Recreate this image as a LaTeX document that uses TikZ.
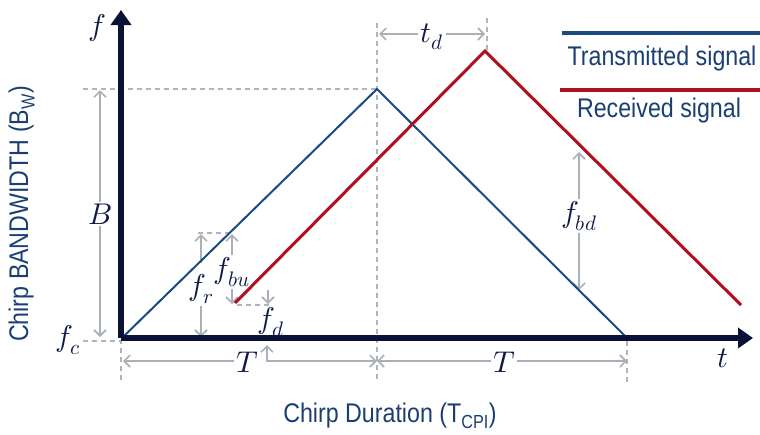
\documentclass[tikz,border=0pt]{standalone}
\usepackage{fontspec}
\usepackage{unicode-math}
\setmathfont{Latin Modern Math}
\setsansfont{Liberation Sans}[FakeStretch=0.86]
\usepackage{xcolor}
\usepackage{tikz}
\usetikzlibrary{arrows.meta,positioning,calc}

\definecolor{axisnavy}{HTML}{0A1238}
\definecolor{txblue}{HTML}{1A4A82}
\definecolor{rxred}{HTML}{B0101E}
\definecolor{guidegray}{HTML}{B0B5BC}
\definecolor{dimgray}{HTML}{A9B0B8}
\definecolor{labelblue}{HTML}{1B3F72}
\definecolor{mathnavy}{HTML}{101A45}

\begin{document}
\begin{tikzpicture}[x=1pt, y=-1pt,
  >={Straight Barb[length=6pt,width=12pt]},
  axis/.style={draw=axisnavy, line width=6.5pt, -{Triangle[length=15pt,width=20pt]}},
  tx/.style={draw=txblue, line width=2pt},
  rx/.style={draw=rxred, line width=3pt},
  guide/.style={draw=guidegray, line width=2.4pt, dash pattern=on 5pt off 4pt},
  dim/.style={draw=dimgray, line width=1.6pt},
  sym/.style={text=mathnavy, font=\fontsize{30}{32}\selectfont, inner sep=2pt},
  caption/.style={text=labelblue, font=\sffamily\fontsize{27}{30}\selectfont, inner sep=0pt}]
  \useasboundingbox (0,0) rectangle (760,434);

  % corner points of the chirps
  \coordinate (O) at (121,338);
  \coordinate (ytop) at (121,10);
  \coordinate (xend) at (753,338);
  \coordinate (txstart) at (123,337);
  \coordinate (txpeak) at (377,89);
  \coordinate (txend) at (627,338);
  \coordinate (rxstart) at (235,303);
  \coordinate (rxpeak) at (485,51);
  \coordinate (rxend) at (741,305);

  % guide lines
  \coordinate (Bref) at (83,89);
  \coordinate (fcref) at (83,341);
  \coordinate (fcaxis) at (121,341);
  \coordinate (midtop) at (377,23);
  \coordinate (midbot) at (377,382);
  \coordinate (tdtop) at (487,18);
  \coordinate (tdbot) at (487,50);
  \coordinate (leftbot) at (121,382);
  \coordinate (endtop) at (627,341);
  \coordinate (endbot) at (627,382);
  \coordinate (frguide) at (198,233);
  \coordinate (txguide) at (229,233);
  \coordinate (rxguide) at (237,305);
  \coordinate (fdguide) at (271,305);
  \draw[guide] (Bref) -- (txpeak);
  \draw[guide] (fcref) -- (fcaxis) -- (leftbot);
  \draw[guide] (midtop) -- (midbot);
  \draw[guide] (tdtop) -- (tdbot);
  \draw[guide] (endtop) -- (endbot);
  \draw[guide] (frguide) -- (txguide);
  \draw[guide] (rxguide) -- (fdguide);

  % dimension labels
  \node[sym] (flab) at (97,28) {$f$};
  \node[sym] (tlab) at (723,358) {$t$};
  \node[sym] (fclab) at (68,340) {$f_c$};
  \node[sym] (Blab) at (100,214) {$B$};
  \node[sym] (tdlab) at (432,37) {$t_d$};
  \node[sym] (T1) at (247,362) {$T$};
  \node[sym] (T2) at (504,362) {$T$};
  \node[sym] (frlab) at (201,289) {$f_r$};
  \node[sym] (fbulab) at (232,272) {$f_{bu}$};
  \node[sym] (fdlab) at (271,322) {$f_d$};
  \node[sym] (fbdlab) at (579,216) {$f_{bd}$};

  \coordinate (Btop) at (100,90);
  \coordinate (Bbot) at (100,337);
  \draw[dim,->] (Blab) -- (Btop);
  \draw[dim,->] (Blab) -- (Bbot);

  \coordinate (tdleft) at (379,34);
  \coordinate (tdright) at (485,34);
  \draw[dim,->] (tdlab.west |- tdleft) -- (tdleft);
  \draw[dim,->] (tdlab.east |- tdright) -- (tdright);

  \coordinate (Tleft) at (123,361);
  \coordinate (Tmid) at (377,361);
  \coordinate (Tright) at (627,361);
  \coordinate (fdlow) at (267,345);
  \draw[dim,->] (T1.west |- Tleft) -- (Tleft);
  \draw[dim,<->] (fdlow) |- (Tmid);
  \draw[dim,->] (T2.west |- Tmid) -- (Tmid);
  \draw[dim,->] (T2.east |- Tright) -- (Tright);

  \coordinate (frtop) at (201,234);
  \coordinate (frbot) at (201,337);
  \coordinate (frup) at (201,263);
  \draw[dim,->] (frup) -- (frtop);
  \draw[dim,->] (frlab) -- (frbot);

  \coordinate (fbutop) at (232,234);
  \coordinate (fbubot) at (232,304);
  \draw[dim,->] (fbulab) -- (fbutop);
  \draw[dim,->] (fbulab) -- (fbubot);

  \coordinate (fdhigh) at (268,290);
  \coordinate (fdtip) at (268,304);
  \draw[dim,->] (fdhigh) -- (fdtip);

  \coordinate (fbdtop) at (579,152);
  \coordinate (fbdbot) at (579,290);
  \draw[dim,->] (fbdlab) -- (fbdtop);
  \draw[dim,->] (fbdlab) -- (fbdbot);

  % the two chirps
  \draw[tx] (txstart) -- (txpeak) -- (txend);
  \draw[rx] (rxstart) -- (rxpeak) -- (rxend);

  % axes
  \draw[axis] (O) -- (ytop);
  \draw[axis] (O) -- (xend);

  % legend
  \coordinate (txkeyl) at (562,33);
  \coordinate (txkeyr) at (760,33);
  \coordinate (rxkeyl) at (560,90);
  \coordinate (rxkeyr) at (760,90);
  \draw[tx, line width=4pt] (txkeyl) -- (txkeyr);
  \draw[rx, line width=4pt] (rxkeyl) -- (rxkeyr);
  \node[caption, anchor=base] (txkey) at (662,65) {Transmitted signal};
  \node[caption, anchor=base] (rxkey) at (659,117) {Received signal};

  % axis titles
  \node[caption, anchor=base] (xcap) at (390,422) {Chirp Duration (T\textsubscript{CPI})};
  \node[caption, anchor=base, rotate=90] (ycap) at (28,214) {Chirp BANDWIDTH (B\textsubscript{W})};
\end{tikzpicture}
\end{document}
